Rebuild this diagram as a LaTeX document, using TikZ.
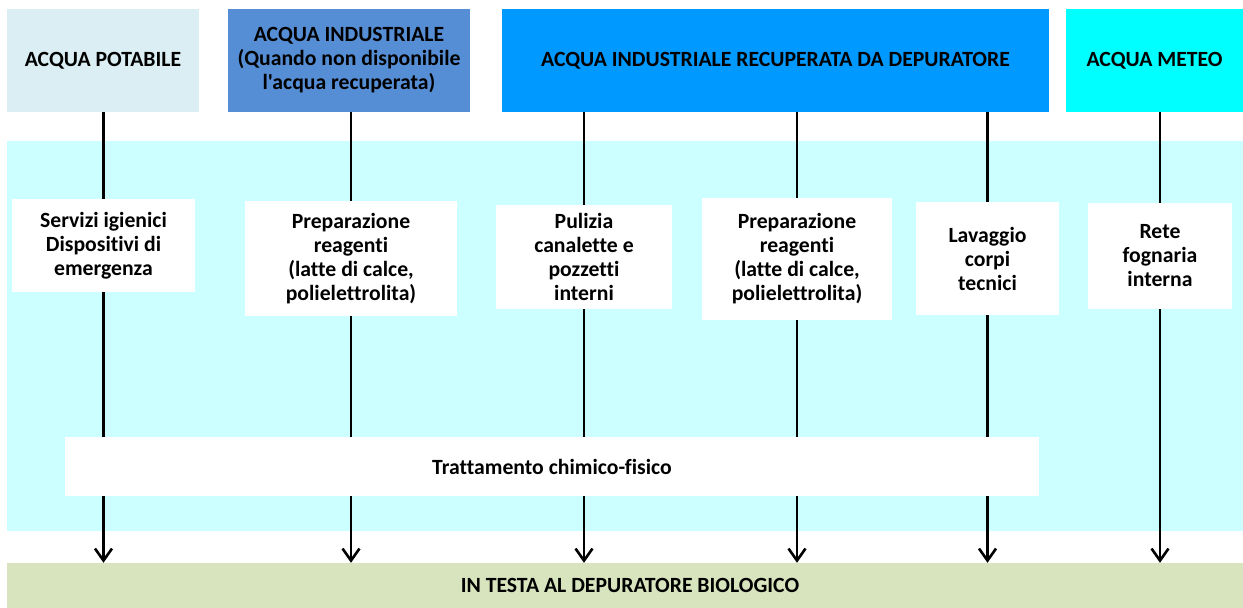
\documentclass[tikz,border=0pt]{standalone}
\usepackage{fontspec}
\setmainfont[Ligatures={TeXOff,NoCommon}]{Carlito}
\usetikzlibrary{arrows.meta}
\pgfdeclarelayer{bg}
\pgfdeclarelayer{lines}
\pgfsetlayers{bg,lines,main}
\definecolor{cPot}{HTML}{DAEEF3}
\definecolor{cInd}{HTML}{558ED5}
\definecolor{cRec}{HTML}{0099FF}
\definecolor{cMet}{HTML}{00FFFF}
\definecolor{cBand}{HTML}{CCFFFF}
\definecolor{cGreen}{HTML}{D7E4BD}
\tikzset{
  box/.style={rectangle, inner sep=0pt, align=center, font=\fontsize{21.7}{24}\selectfont\bfseries},
  topbox/.style={box, minimum height=103pt},
  midbox/.style={box, fill=white},
  flow/.style={line width=2.6pt, -{Straight Barb[length=12pt,width=17pt,line width=2.6pt]}}
}
\begin{document}
\begin{tikzpicture}[x=1pt,y=-1pt]
\useasboundingbox (0,0) rectangle (1243,608);
% top sources
\node[topbox, fill=cPot, minimum width=192pt] (pot) at (103,60.5) {ACQUA POTABILE};
\node[topbox, fill=cInd, minimum width=242pt] (ind) at (349,60.5) {ACQUA INDUSTRIALE\\(Quando non disponibile\\l'acqua recuperata)};
\node[topbox, fill=cRec, minimum width=547pt] (rec) at (775.5,60.5) {ACQUA INDUSTRIALE RECUPERATA DA DEPURATORE};
\node[topbox, fill=cMet, minimum width=177pt] (met) at (1154.5,60.5) {ACQUA METEO};
% band
\begin{pgfonlayer}{bg}
\node[rectangle, inner sep=0pt, fill=cBand, minimum width=1236pt, minimum height=390pt] (band) at (625,336) {};
\end{pgfonlayer}
% green destination
\node[box, fill=cGreen, minimum width=1236pt, minimum height=45pt] (green) at (625,585.5) {\hspace*{10pt}IN TESTA AL DEPURATORE BIOLOGICO};
% middle boxes
\node[midbox, minimum width=183pt, minimum height=93pt] (serv) at (103.5,245.5) {Servizi igienici\\Dispositivi di\\emergenza};
\node[midbox, minimum width=212pt, minimum height=115pt] (prepa) at (351,258.5) {Preparazione\\reagenti\\(latte di calce,\\polielettrolita)};
\node[midbox, minimum width=176pt, minimum height=104pt] (pul) at (584,257) {Pulizia\\canalette e\\pozzetti\\interni};
\node[midbox, minimum width=190pt, minimum height=122pt] (prepb) at (797,259) {Preparazione\\reagenti\\(latte di calce,\\polielettrolita)};
\node[midbox, minimum width=143pt, minimum height=113pt] (lav) at (987.5,258.5) {Lavaggio\\corpi\\tecnici};
\node[midbox, minimum width=144pt, minimum height=106pt] (rete) at (1160,256) {Rete\\fognaria\\interna};
\node[midbox, minimum width=974pt, minimum height=59pt] (tratt) at (552,466.5) {Trattamento chimico-fisico};
% flows
\begin{pgfonlayer}{lines}
\draw[flow] (serv |- pot.south) -- (serv |- green.north);
\draw[flow] (prepa |- ind.south) -- (prepa |- green.north);
\draw[flow] (pul |- rec.south) -- (pul |- green.north);
\draw[flow] (prepb |- rec.south) -- (prepb |- green.north);
\draw[flow] (lav |- rec.south) -- (lav |- green.north);
\draw[flow] (rete |- met.south) -- (rete |- green.north);
\end{pgfonlayer}
\end{tikzpicture}
\end{document}
